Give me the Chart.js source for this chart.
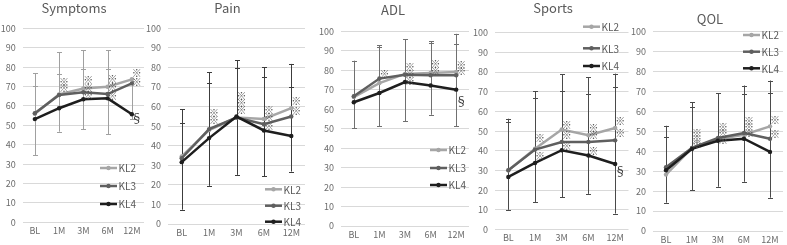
<!DOCTYPE html>
<html>
<head>
<meta charset="utf-8">
<script src="https://cdn.jsdelivr.net/npm/chart.js@4.4.1/dist/chart.umd.min.js"></script>
<style>
  body { margin: 0; background: #fff; width: 787px; height: 245px; overflow: hidden; position: relative; }
  canvas { position: absolute; left: 0; top: 0; }
</style>
</head>
<body>
<canvas id="c0" width="787" height="245"></canvas>
<canvas id="c1" width="787" height="245"></canvas>
<canvas id="c2" width="787" height="245"></canvas>
<canvas id="c3" width="787" height="245"></canvas>
<canvas id="c4" width="787" height="245"></canvas>
<script>
// --- DATA ---
const timepoints = ['BL', '1M', '3M', '6M', '12M'];
const seriesNames = ['KL2', 'KL3', 'KL4'];

// Symptoms
const symptomsKL2 = [56.0, 65.9, 69.0, 69.9, 73.7];
const symptomsKL3 = [56.2, 65.6, 67.0, 66.1, 71.6];
const symptomsKL4 = [53.2, 58.8, 63.4, 63.9, 55.7];
const symptomsBarTop = [76.8, 87.6, 88.8, 88.8, 74.0];
const symptomsBarMid = [70.4, 76.3, 79.2, 79.2, null];
const symptomsBarLow = [34.7, 46.7, 48.0, 45.5, 53.0];
const symptomsMarkAt = [1, 1, 2, 2, 2, 3, 3, 3, 4, 4, 4];
const symptomsMarkY = [72.4, 69.0, 73.4, 69.0, 65.4, 73.7, 69.6, 65.1, 76.8, 72.4, 53.7];
const symptomsMarkSym = ['※', '※', '※', '※', '※', '※', '※', '※', '※', '※', '§'];

// Pain
const painKL2 = [34.5, 48.0, 54.4, 53.7, 59.2];
const painKL3 = [33.6, 48.5, 54.4, 51.0, 54.9];
const painKL4 = [31.6, 43.9, 54.9, 47.8, 45.0];
const painBarTop = [58.7, 77.5, 83.8, 80.1, 81.8];
const painBarMid = [51.5, 71.9, 79.6, 75.3, 70.2];
const painBarLow = [7.3, 19.5, 25.1, 24.3, 26.8];
const painMarkAt = [1, 1, 2, 2, 2, 3, 3, 3, 4, 4];
const painMarkY = [56.6, 53.2, 65.1, 61.7, 58.3, 58.3, 54.4, 50.2, 62.5, 57.4];
const painMarkSym = ['※', '※', '※', '※', '※', '※', '※', '※', '※', '※'];

// ADL
const adlKL2 = [66.3, 73.5, 78.2, 78.7, 79.2];
const adlKL3 = [66.7, 75.8, 77.8, 77.5, 77.5];
const adlKL4 = [63.6, 68.4, 74.0, 72.2, 70.1];
const adlBarTop = [85.0, 92.9, 95.9, 95.0, 98.8];
const adlBarMid = [null, 92.0, null, 94.2, 93.8];
const adlBarLow = [50.3, 51.2, 53.8, 57.2, 51.2];
const adlMarkAt = [1, 2, 2, 2, 3, 3, 4, 4, 4];
const adlMarkY = [78.0, 81.6, 78.2, 74.7, 83.0, 79.5, 82.6, 79.5, 64.0];
const adlMarkSym = ['※', '※', '※', '※', '※', '※', '※', '※', '§'];

// Sports
const sportsKL2 = [30.1, 41.0, 50.8, 47.9, 51.6];
const sportsKL3 = [30.1, 40.6, 44.5, 44.5, 45.3];
const sportsKL4 = [26.7, 33.8, 40.3, 37.6, 33.3];
const sportsBarTop = [56.3, 70.2, 79.0, 77.3, 79.2];
const sportsBarMid = [54.7, 66.9, 70.2, 68.9, 72.2];
const sportsBarLow = [10.0, 14.0, 16.4, 18.1, 8.1];
const sportsMarkAt = [1, 1, 2, 2, 2, 3, 3, 3, 4, 4, 4];
const sportsMarkY = [46.2, 37.2, 52.9, 47.7, 42.3, 51.3, 47.7, 39.7, 55.0, 48.7, 29.6];
const sportsMarkSym = ['※', '※', '※', '※', '※', '※', '※', '※', '※', '※', '§'];

// QOL
const qolKL2 = [28.3, 41.7, 46.2, 48.3, 52.5];
const qolKL3 = [32.0, 41.7, 46.7, 49.2, 46.3];
const qolKL4 = [30.5, 41.2, 45.3, 46.3, 39.7];
const qolBarTop = [52.8, 64.5, 69.2, 73.0, 75.5];
const qolBarMid = [47.2, 62.2, null, 68.8, 69.2];
const qolBarLow = [14.2, 20.5, 22.2, 24.7, 16.7];
const qolMarkAt = [1, 1, 1, 2, 2, 2, 3, 3, 3, 4, 4];
const qolMarkY = [49.2, 46.2, 43.8, 52.2, 49.2, 45.8, 55.3, 52.2, 49.2, 55.8, 48.7];
const qolMarkSym = ['※', '※', '※', '※', '※', '※', '※', '※', '※', '※', '※'];

// --- LAYOUT / STYLE ---
const FONT = '"Noto Sans CJK JP", "Noto Sans", sans-serif';
const seriesColors = ['#a6a6a6', '#5f5f5f', '#1e1e1e'];
const textColor = '#6b6b6b';

const panels = [
  { title: 'Symptoms', series: [symptomsKL2, symptomsKL3, symptomsKL4],
    bars: [symptomsBarTop, symptomsBarMid, symptomsBarLow], barColor: '#a0a0a0',
    marks: [symptomsMarkAt, symptomsMarkY, symptomsMarkSym],
    left: 22.7, right: 144, top: 28.3, bottom: 222.3, titleX: 74, titleY: 8.5,
    legendX: 100, legendY: [168, 186, 204] },
  { title: 'Pain', series: [painKL2, painKL3, painKL4],
    bars: [painBarTop, painBarMid, painBarLow], barColor: '#3c3c3c',
    marks: [painMarkAt, painMarkY, painMarkSym],
    left: 168, right: 305, top: 28.3, bottom: 224, titleX: 227.5, titleY: 8.5,
    legendX: 265, legendY: [189.3, 205.7, 221.7] },
  { title: 'ADL', series: [adlKL2, adlKL3, adlKL4],
    bars: [adlBarTop, adlBarMid, adlBarLow], barColor: '#707070',
    marks: [adlMarkAt, adlMarkY, adlMarkSym],
    left: 341, right: 469, top: 31.5, bottom: 226, titleX: 393, titleY: 10,
    legendX: 430, legendY: [150, 168, 185] },
  { title: 'Sports', series: [sportsKL2, sportsKL3, sportsKL4],
    bars: [sportsBarTop, sportsBarMid, sportsBarLow], barColor: '#4a4a4a',
    marks: [sportsMarkAt, sportsMarkY, sportsMarkSym],
    left: 495, right: 628.5, top: 32.7, bottom: 229.5, titleX: 553, titleY: 8.5,
    legendX: 583, legendY: [26.7, 48.3, 66] },
  { title: 'QOL', series: [qolKL2, qolKL3, qolKL4],
    bars: [qolBarTop, qolBarMid, qolBarLow], barColor: '#4a4a4a',
    marks: [qolMarkAt, qolMarkY, qolMarkSym],
    left: 653, right: 787, top: 31.7, bottom: 231, titleX: 710, titleY: 19,
    legendX: 743, legendY: [35, 51.7, 68.3] }
];

// --- PLUGINS ---
const errorBars = {
  id: 'errorBars',
  beforeDatasetsDraw(chart, args, opts) {
    const { ctx } = chart;
    const x = chart.scales.x, y = chart.scales.y;
    const [top, mid, low] = opts.bars;
    ctx.save();
    ctx.strokeStyle = opts.color;
    ctx.lineWidth = 1;
    for (let i = 0; i < top.length; i++) {
      const px = Math.round(x.getPixelForValue(i)) + 0.5;
      const yt = y.getPixelForValue(top[i]);
      const yb = y.getPixelForValue(low[i]);
      ctx.beginPath();
      ctx.moveTo(px, yt); ctx.lineTo(px, yb);
      [top[i], mid[i], low[i]].forEach(v => {
        if (v == null) return;
        const py = Math.round(y.getPixelForValue(v)) + 0.5;
        ctx.moveTo(px - 2.5, py); ctx.lineTo(px + 2.5, py);
      });
      ctx.stroke();
    }
    ctx.restore();
  }
};

const panelDecor = {
  id: 'panelDecor',
  afterDraw(chart, args, opts) {
    const { ctx } = chart;
    const x = chart.scales.x, y = chart.scales.y;
    const p = opts.panel;
    ctx.save();
    // title
    ctx.fillStyle = '#595959';
    ctx.font = '13px ' + FONT;
    ctx.textAlign = 'center';
    ctx.textBaseline = 'middle';
    ctx.fillText(p.title, p.titleX, p.titleY);
    // significance marks
    const [at, vy, sym] = p.marks;
    for (let i = 0; i < at.length; i++) {
      const px = x.getPixelForValue(at[i]) + 5;
      const py = y.getPixelForValue(vy[i]);
      if (sym[i] === '§') {
        ctx.fillStyle = '#333';
        ctx.font = '12px ' + FONT;
      } else {
        ctx.fillStyle = '#505050';
        ctx.font = '10px ' + FONT;
      }
      ctx.fillText(sym[i], px, py);
    }
    // legend
    ctx.textAlign = 'left';
    ctx.font = '10px ' + FONT;
    seriesNames.forEach((name, k) => {
      const ly = p.legendY[k];
      ctx.strokeStyle = seriesColors[k];
      ctx.lineWidth = 2.5;
      ctx.beginPath();
      ctx.moveTo(p.legendX, ly); ctx.lineTo(p.legendX + 17, ly);
      ctx.stroke();
      ctx.fillStyle = seriesColors[k];
      ctx.beginPath();
      ctx.arc(p.legendX + 8.5, ly, 2.2, 0, Math.PI * 2);
      ctx.fill();
      ctx.fillStyle = '#595959';
      ctx.fillText(name, p.legendX + 18.5, ly + 0.5);
    });
    ctx.restore();
  }
};

// --- CHARTS ---
panels.forEach((p, n) => {
  const ctx = document.getElementById('c' + n).getContext('2d');
  new Chart(ctx, {
    type: 'line',
    data: {
      labels: timepoints,
      datasets: p.series.map((vals, k) => ({
        label: seriesNames[k],
        data: vals,
        borderColor: seriesColors[k],
        backgroundColor: seriesColors[k],
        borderWidth: 2.5,
        pointRadius: 2.2,
        pointBorderWidth: 0,
        tension: 0,
        order: 3 - k
      }))
    },
    options: {
      responsive: false,
      animation: false,
      devicePixelRatio: 1,
      layout: { padding: { left: 0, right: 787 - p.right, top: p.top, bottom: 0 } },
      plugins: {
        legend: { display: false },
        tooltip: { enabled: false },
        title: { display: false },
        errorBars: { bars: p.bars, color: p.barColor },
        panelDecor: { panel: p }
      },
      scales: {
        x: {
          offset: true,
          grid: { display: false, drawTicks: false },
          border: { display: false },
          ticks: { color: textColor, font: { family: FONT, size: 9 }, padding: 3, maxRotation: 0, autoSkip: false },
          afterFit: s => { s.height = 245 - p.bottom; }
        },
        y: {
          min: 0, max: 100,
          grid: { color: '#d9d9d9', lineWidth: 1, drawTicks: false },
          border: { display: false },
          ticks: { stepSize: 10, color: textColor, font: { family: FONT, size: 9 }, padding: 7 },
          afterFit: s => { s.width = p.left; }
        }
      }
    },
    plugins: [errorBars, panelDecor]
  });
});
</script>
</body>
</html>
